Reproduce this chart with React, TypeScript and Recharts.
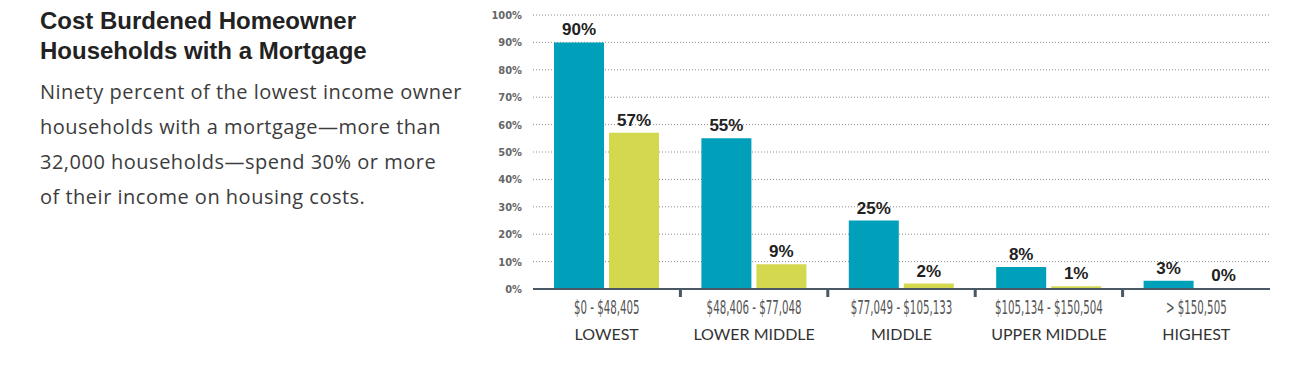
import React from "react";
import { BarChart, Bar, XAxis, YAxis, CartesianGrid, LabelList } from "recharts";

// Income tiers (x categories)
const incomeRanges = ["$0 - $48,405", "$48,406 - $77,048", "$77,049 - $105,133", "$105,134 - $150,504", "> $150,505"];
const incomeTiers = ["LOWEST", "LOWER MIDDLE", "MIDDLE", "UPPER MIDDLE", "HIGHEST"];

// Share of owner households with a mortgage (percent)
const costBurdened = [90, 55, 25, 8, 3];
const severelyBurdened = [57, 9, 2, 1, 0];

const yTicks = [0, 10, 20, 30, 40, 50, 60, 70, 80, 90, 100];

const chartData = incomeTiers.map((tier, i) => ({
    tier,
    range: incomeRanges[i],
    burdened: costBurdened[i],
    severe: severelyBurdened[i],
}));

const TEAL = "#009fba";
const LIME = "#d3d84f";
const AXIS = "#4a5865";

const CHART_W = 1298;
const CHART_H = 367;
const MARGIN = { top: 15, right: 28, bottom: 18, left: 493 };
const Y_AXIS_W = 40;
const plotW = CHART_W - MARGIN.left - MARGIN.right - Y_AXIS_W;
const bandW = plotW / incomeTiers.length;

// two-line category tick plus the little separator marks between groups
const IncomeTick = ({ x, y, payload, index }: any) => {
    const range = chartData[index]?.range ?? "";
    return (
        <g>
            {index > 0 && (
                <rect x={x - bandW / 2 - 1.5} y={y + 1} width={3} height={7} fill={AXIS} />
            )}
            <text
                transform={`translate(${x},${y + 25}) scale(0.6,1)`}
                textAnchor="middle"
                fontFamily="'Liberation Sans Narrow', 'DejaVu Sans Condensed', sans-serif"
                fontSize={19}
                fill="#555"
            >
                {range}
            </text>
            <text
                x={x}
                y={y + 51}
                textAnchor="middle"
                fontFamily="Lato, sans-serif"
                fontSize={16}
                fill="#333"
            >
                {payload.value}
            </text>
        </g>
    );
};

const labelStyle = {
    fontFamily: "'Liberation Sans', Arial, sans-serif",
    fontWeight: 700,
    fontSize: 17,
    fill: "#222",
};

export default function App() {
    return (
        <div
            style={{
                position: "absolute",
                left: 0,
                top: 0,
                width: CHART_W,
                height: CHART_H,
                background: "#fff",
                overflow: "hidden",
            }}
        >
            <div
                style={{
                    position: "absolute",
                    left: 40,
                    top: 6,
                    fontFamily: "'Liberation Sans', Arial, sans-serif",
                    fontWeight: 700,
                    fontSize: 24,
                    lineHeight: "30px",
                    color: "#222",
                }}
            >
                Cost Burdened Homeowner
                <br />
                Households with a Mortgage
            </div>
            <div
                style={{
                    position: "absolute",
                    left: 40,
                    top: 74,
                    width: 460,
                    fontFamily: "'Open Sans', sans-serif",
                    fontSize: 20,
                    letterSpacing: 0.5,
                    lineHeight: "35px",
                    color: "#3c3c3c",
                }}
            >
                Ninety percent of the lowest income owner
                <br />
                households with a mortgage—more than
                <br />
                32,000 households—spend 30% or more
                <br />
                of their income on housing costs.
            </div>
            <div style={{ position: "absolute", left: 0, top: 0 }}>
                <BarChart
                    width={CHART_W}
                    height={CHART_H}
                    data={chartData}
                    margin={MARGIN}
                    barSize={50}
                    barGap={5}
                >
                    <CartesianGrid
                        vertical={false}
                        stroke="#8a8a8a"
                        strokeDasharray="1 2"
                    />
                    <YAxis
                        width={Y_AXIS_W}
                        domain={[0, 100]}
                        ticks={yTicks}
                        interval={0}
                        tickFormatter={(v) => `${v}%`}
                        axisLine={false}
                        tickLine={false}
                        tickSize={0}
                        tickMargin={11}
                        tick={{
                            fontFamily: "'Liberation Sans Narrow', 'DejaVu Sans Condensed', sans-serif",
                            fontWeight: 700,
                            fontSize: 11,
                            fill: "#666",
                        }}
                    />
                    <XAxis
                        dataKey="tier"
                        height={60}
                        interval={0}
                        axisLine={{ stroke: AXIS, strokeWidth: 2 }}
                        tickLine={false}
                        tickSize={0}
                        tickMargin={0}
                        tick={<IncomeTick />}
                    />
                    <Bar dataKey="burdened" fill={TEAL} isAnimationActive={false}>
                        <LabelList
                            dataKey="burdened"
                            position="top"
                            offset={7}
                            formatter={(v: any) => `${v}%`}
                            style={labelStyle}
                        />
                    </Bar>
                    <Bar dataKey="severe" fill={LIME} minPointSize={1} isAnimationActive={false}>
                        <LabelList
                            dataKey="severe"
                            position="top"
                            offset={7}
                            formatter={(v: any) => `${v}%`}
                            style={labelStyle}
                        />
                    </Bar>
                </BarChart>
            </div>
        </div>
    );
}
